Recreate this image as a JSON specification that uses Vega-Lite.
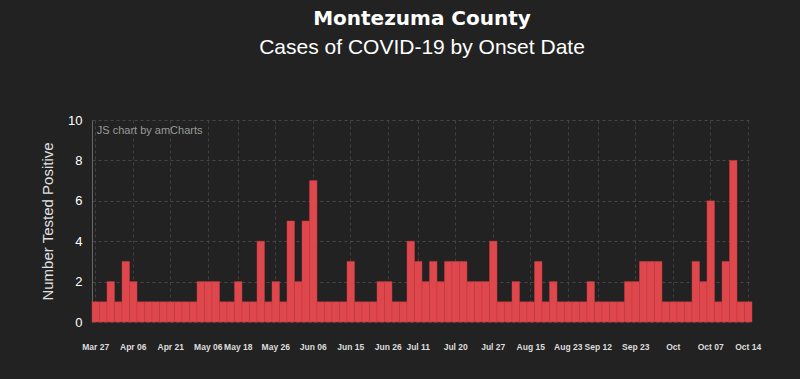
{
  "$schema": "https://vega.github.io/schema/vega-lite/v6.json",
  "background": "#222222",
  "autosize": {"type": "none"},
  "padding": {"left": 92, "top": 120, "right": 48, "bottom": 57},
  "width": 660,
  "height": 202,
  "config": {"view": {"stroke": null}},
  "title": {
    "text": "Montezuma County",
    "subtitle": "Cases of COVID-19 by Onset Date",
    "color": "#ffffff",
    "subtitleColor": "#ffffff",
    "fontSize": 20,
    "subtitleFontSize": 21,
    "font": "DejaVu Sans",
    "subtitleFont": "Liberation Sans",
    "fontWeight": "bold",
    "subtitleFontWeight": "normal",
    "anchor": "middle",
    "offset": 56,
    "subtitlePadding": 8
  },
  "layer": [
    {
      "data": {"values": [
        {"date": "Mar 27", "cases": 1}, {"date": "Mar 30", "cases": 1}, {"date": "Mar 31", "cases": 2}, {"date": "Apr 02", "cases": 1},
        {"date": "Apr 03", "cases": 3}, {"date": "Apr 06", "cases": 2}, {"date": "Apr 08", "cases": 1}, {"date": "Apr 10", "cases": 1},
        {"date": "Apr 14", "cases": 1}, {"date": "Apr 17", "cases": 1}, {"date": "Apr 21", "cases": 1}, {"date": "Apr 24", "cases": 1},
        {"date": "Apr 28", "cases": 1}, {"date": "May 01", "cases": 1}, {"date": "May 04", "cases": 2}, {"date": "May 06", "cases": 2},
        {"date": "May 08", "cases": 2}, {"date": "May 12", "cases": 1}, {"date": "May 15", "cases": 1}, {"date": "May 18", "cases": 2},
        {"date": "May 20", "cases": 1}, {"date": "May 21", "cases": 1}, {"date": "May 22", "cases": 4}, {"date": "May 24", "cases": 1},
        {"date": "May 26", "cases": 2}, {"date": "May 28", "cases": 1}, {"date": "May 30", "cases": 5}, {"date": "Jun 01", "cases": 2},
        {"date": "Jun 03", "cases": 5}, {"date": "Jun 06", "cases": 7}, {"date": "Jun 08", "cases": 1}, {"date": "Jun 10", "cases": 1},
        {"date": "Jun 11", "cases": 1}, {"date": "Jun 13", "cases": 1}, {"date": "Jun 15", "cases": 3}, {"date": "Jun 17", "cases": 1},
        {"date": "Jun 19", "cases": 1}, {"date": "Jun 22", "cases": 1}, {"date": "Jun 24", "cases": 2}, {"date": "Jun 26", "cases": 2},
        {"date": "Jun 30", "cases": 1}, {"date": "Jul 03", "cases": 1}, {"date": "Jul 07", "cases": 4}, {"date": "Jul 11", "cases": 3},
        {"date": "Jul 13", "cases": 2}, {"date": "Jul 14", "cases": 3}, {"date": "Jul 16", "cases": 2}, {"date": "Jul 18", "cases": 3},
        {"date": "Jul 20", "cases": 3}, {"date": "Jul 21", "cases": 3}, {"date": "Jul 22", "cases": 2}, {"date": "Jul 24", "cases": 2},
        {"date": "Jul 25", "cases": 2}, {"date": "Jul 27", "cases": 4}, {"date": "Jul 31", "cases": 1}, {"date": "Aug 04", "cases": 1},
        {"date": "Aug 07", "cases": 2}, {"date": "Aug 10", "cases": 1}, {"date": "Aug 15", "cases": 1}, {"date": "Aug 17", "cases": 3},
        {"date": "Aug 18", "cases": 1}, {"date": "Aug 20", "cases": 2}, {"date": "Aug 21", "cases": 1}, {"date": "Aug 23", "cases": 1},
        {"date": "Aug 27", "cases": 1}, {"date": "Aug 31", "cases": 1}, {"date": "Sep 05", "cases": 2}, {"date": "Sep 12", "cases": 1},
        {"date": "Sep 14", "cases": 1}, {"date": "Sep 16", "cases": 1}, {"date": "Sep 18", "cases": 1}, {"date": "Sep 21", "cases": 2},
        {"date": "Sep 23", "cases": 2}, {"date": "Sep 25", "cases": 3}, {"date": "Sep 27", "cases": 3}, {"date": "Sep 28", "cases": 3},
        {"date": "Sep 30", "cases": 1}, {"date": "Oct 01", "cases": 1}, {"date": "Oct 02", "cases": 1}, {"date": "Oct 04", "cases": 1},
        {"date": "Oct 05", "cases": 3}, {"date": "Oct 06", "cases": 2}, {"date": "Oct 07", "cases": 6}, {"date": "Oct 09", "cases": 1},
        {"date": "Oct 11", "cases": 3}, {"date": "Oct 12", "cases": 8}, {"date": "Oct 13", "cases": 1}, {"date": "Oct 14", "cases": 1}
      ]},
      "mark": {"type": "bar", "color": "#de474c", "stroke": "#c23b40", "strokeWidth": 0.5},
      "encoding": {
        "x": {
          "field": "date",
          "type": "nominal",
          "sort": null,
          "scale": {"paddingInner": 0, "paddingOuter": 0},
          "axis": {
            "title": null,
            "values": ["Mar 27", "Apr 06", "Apr 21", "May 06", "May 18", "May 26", "Jun 06", "Jun 15", "Jun 26", "Jul 11", "Jul 20", "Jul 27", "Aug 15", "Aug 23", "Sep 12", "Sep 23", "Oct 01", "Oct 07", "Oct 14"],
            "labelExpr": "datum.value == 'Oct 01' ? 'Oct' : datum.value",
            "labelAngle": 0,
            "labelColor": "#dddddd",
            "labelFont": "Liberation Sans",
            "labelFontSize": 8.5,
            "labelFontWeight": "bold",
            "labelPadding": 20,
            "ticks": false,
            "domain": false,
            "grid": true,
            "gridColor": "#555555",
            "gridDash": [3, 3],
            "gridOpacity": 0.6,
            "bandPosition": 0.5
          }
        },
        "y": {
          "field": "cases",
          "type": "quantitative",
          "scale": {"domain": [0, 10]},
          "axis": {
            "title": "Number Tested Positive",
            "titleColor": "#e0e0e0",
            "titleFont": "Liberation Sans",
            "titleFontSize": 15,
            "titleFontWeight": "normal",
            "titlePadding": 12,
            "labelColor": "#ffffff",
            "labelFont": "Liberation Sans",
            "labelFontSize": 13,
            "labelPadding": 10,
            "ticks": false,
            "values": [0, 2, 4, 6, 8, 10],
            "domainColor": "#666666",
            "gridColor": "#555555",
            "gridDash": [3, 3],
            "gridOpacity": 0.7
          }
        }
      }
    },
    {
      "data": {"values": [{"label": "JS chart by amCharts"}]},
      "mark": {"type": "text", "align": "left", "baseline": "middle", "color": "#9a9a9a", "fontSize": 11, "font": "Liberation Sans", "dx": 1},
      "encoding": {
        "x": {"datum": "Mar 27", "type": "nominal"},
        "y": {"datum": 9.45, "type": "quantitative"},
        "text": {"field": "label", "type": "nominal"}
      }
    }
  ]
}
